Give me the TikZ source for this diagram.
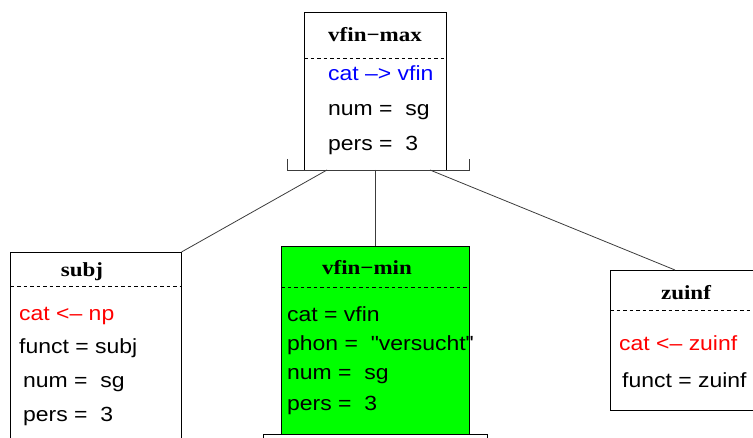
\documentclass[tikz,border=0pt]{standalone}
\usepackage{fontspec}
\newfontfamily\featfont[FakeStretch=1.12]{Liberation Sans}
\newfontfamily\titlefont[FakeStretch=1.15]{Liberation Serif}
\definecolor{vblue}{RGB}{0,0,255}
\definecolor{vred}{RGB}{255,0,0}
\definecolor{vgreen}{RGB}{0,255,0}
\definecolor{edgegrey}{RGB}{60,60,60}
\begin{document}
\begin{tikzpicture}[x=1pt,y=-1pt,
  box/.style={draw=black,line width=0.8pt,inner sep=0pt,outer sep=0pt},
  sep/.style={line width=0.6pt,dash pattern=on 3.5pt off 3pt},
  ttl/.style={anchor=base,inner sep=0pt,font=\titlefont\bfseries\fontsize{20}{20}\selectfont},
  feat/.style={anchor=base west,inner sep=0pt,font=\featfont\fontsize{20.5}{20}\selectfont},
  conn/.style={draw=edgegrey,line width=0.8pt}]
\useasboundingbox (0,0) rectangle (753,438);
\clip (0,0) rectangle (753,438);

% boxes
\node[box,minimum width=142pt,minimum height=158pt] (vfinmax) at (375,91) {};
\node[box,minimum width=171pt,minimum height=193pt] (subj) at (96,348.5) {};
\node[box,fill=vgreen,minimum width=188pt,minimum height=199pt] (vfinmin) at (375,345.5) {};
\node[box,fill=white,minimum width=224pt,minimum height=20pt] (lower) at (375,444) {};
\node[box,minimum width=150pt,minimum height=140pt] (zuinf) at (685,340) {};

% separators
\draw[sep] (vfinmax.west |- 0,58) -- (vfinmax.east |- 0,58);
\draw[sep] (subj.west |- 0,286) -- (subj.east |- 0,286);
\draw[sep] (vfinmin.west |- 0,287) -- (vfinmin.east |- 0,287);
\draw[sep] (zuinf.west |- 0,310) -- (zuinf.east |- 0,310);

% titles
\node[ttl] (t1) at (375,42) {vfin−max};
\node[ttl] (t2) at (82,277) {subj};
\node[ttl] (t3) at (367,275) {vfin−min};
\node[ttl] (t4) at (686,300) {zuinf};

% features top
\node[feat,text=vblue] (a1) at (328,81) {cat –> vfin};
\node[feat] (a2) at (328,116) {num =\ \ sg};
\node[feat] (a3) at (328,151) {pers =\ \ 3};

% subj
\node[feat,text=vred] (b1) at (19,321) {cat <– np};
\node[feat] (b2) at (19,354) {funct = subj};
\node[feat] (b3) at (23,388) {num =\ \ sg};
\node[feat] (b4) at (23,422) {pers =\ \ 3};

% vfin-min
\node[feat] (c1) at (287,322) {cat = vfin};
\node[feat] (c2) at (287,351) {phon =\ \ "versucht"};
\node[feat] (c3) at (287,380) {num =\ \ sg};
\node[feat] (c4) at (287,410) {pers =\ \ 3};

% zuinf
\node[feat,text=vred] (d1) at (619,351) {cat <– zuinf};
\node[feat] (d2) at (622,388) {funct = zuinf};

% bracket and connectors
\coordinate (bl) at (287,170);
\coordinate (br) at (469,170);
\coordinate (bm) at (vfinmin.north |- bl);
\coordinate (bL) at (327,170);
\coordinate (bR) at (430,170);
\draw[conn] ([yshift=11pt]bl) -- (bl) -- (br) -- ([yshift=11pt]br);
\draw[conn] (bL) -- (subj.north east);
\draw[conn] (bm) -- (vfinmin.north);
\draw[conn] (bR) -- ([xshift=-10pt]zuinf.north);
\end{tikzpicture}
\end{document}
